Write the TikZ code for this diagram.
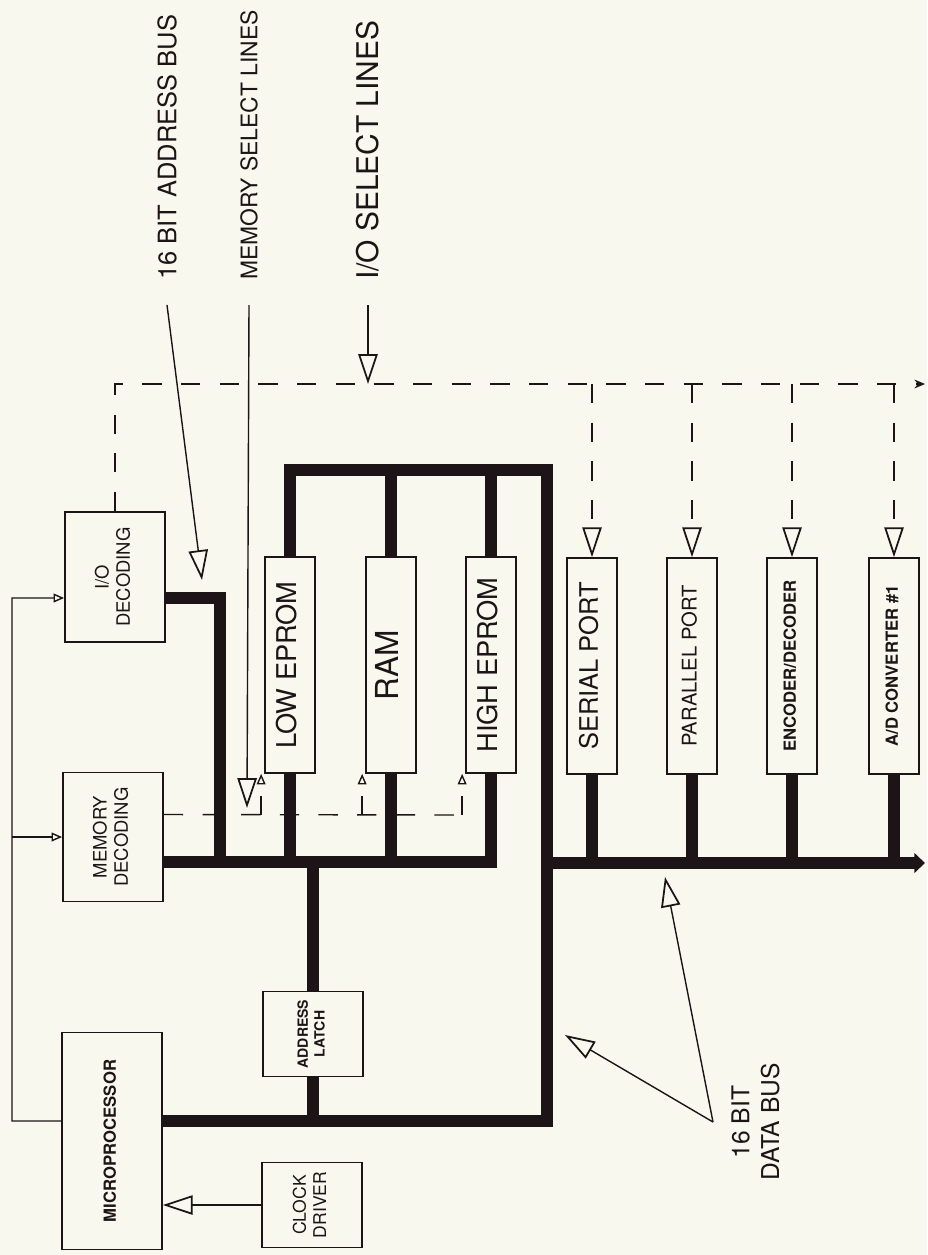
\documentclass[tikz,border=0pt]{standalone}
\usepackage{fontspec}
\setmainfont{TeX Gyre Heros}
\usetikzlibrary{arrows.meta,calc}
\definecolor{paper}{RGB}{248,248,238}
\definecolor{ink}{RGB}{28,20,22}
\newcommand{\vlab}[2]{\rotatebox{90}{#1\begin{tabular}{@{}c@{}}#2\end{tabular}}}

\begin{document}
\begin{tikzpicture}[x=0.02cm,y=-0.02cm,>=Stealth,color=ink,
    box/.style={draw,line width=1pt,inner sep=0pt,minimum width=2cm},
    chip/.style={draw,line width=1pt,inner sep=0pt,minimum width=1cm,minimum height=4.32cm},
    bus/.style={line width=6.8pt,line join=miter},
    sel/.style={line width=0.8pt,dash pattern=on 11pt off 11pt},
    ctl/.style={line width=0.8pt},
    ptr/.style={line width=0.8pt,-{Triangle[open,length=17pt,width=11pt,line width=1pt]}},
    tick/.style={-{Triangle[open,length=6pt,width=5pt,line width=0.8pt]}},
    lbl/.style={rotate=90,inner xsep=0.5cm,inner ysep=0pt}]
\fill[paper] (0,0) rectangle (927,1255);
\useasboundingbox (0,0) rectangle (927,1255);
% decoding, cpu
\node[box,minimum height=2.6cm] (iodec) at (115,577) {\vlab{\fontsize{10.5}{12}\selectfont}{I/O\\DECODING}};
\node[box,minimum height=2.58cm] (memdec) at (113,837) {\vlab{\fontsize{10.5}{12}\selectfont}{MEMORY\\DECODING}};
\node[box,minimum height=4.34cm] (mpu) at (112,1141) {\vlab{\fontsize{9.5}{11}\selectfont\bfseries}{MICROPROCESSOR}};
\node[box,minimum height=1.7cm] (latch) at (313,1034) {\vlab{\fontsize{8}{9.5}\selectfont\bfseries}{ADDRESS\\LATCH}};
\node[box,minimum height=1.7cm] (clk) at (312,1205) {\vlab{\fontsize{10}{11.5}\selectfont}{CLOCK\\DRIVER}};
% memory
\node[chip] (lowrom) at (290,665) {\vlab{\fontsize{15.5}{18}\selectfont}{LOW EPROM}};
\node[chip] (ram) at (391,665) {\vlab{\fontsize{18}{20}\selectfont}{RAM}};
\node[chip] (highrom) at (491,665) {\vlab{\fontsize{15.5}{18}\selectfont}{HIGH EPROM}};
% i/o devices
\node[chip] (serial) at (592,666) {\vlab{\fontsize{14.5}{17}\selectfont}{SERIAL PORT}};
\node[chip] (parallel) at (692,666) {\vlab{\fontsize{11.5}{13}\selectfont}{PARALLEL PORT}};
\node[chip] (codec) at (792,666) {\vlab{\fontsize{9.5}{11}\selectfont\bfseries}{ENCODER/DECODER}};
\node[chip] (adc) at (894,666) {\vlab{\fontsize{9.5}{11}\selectfont\bfseries}{A/D CONVERTER \#1}};

\coordinate (dtop) at (547,470);
\coordinate (dtee) at (547,863);
\coordinate (dbot) at (547,1121);
\coordinate (dend) at (925,863);
\coordinate (abus) at (220,862);
\coordinate (aturn) at (220,598);
\coordinate (msel) at (463,815);
\coordinate (iosel) at (368,384);
\coordinate (ioend) at (925,384);
\coordinate (ctl) at (12,1121);

% data bus
\draw[bus] ([yshift=0.4cm]mpu.east) -- (dbot) -- (dtop) -- (lowrom.north |- dtop) -- (lowrom.north);
\foreach \n in {ram,highrom}
    \draw[bus] (\n.north) -- (\n.north |- dtop);
\draw[bus,-{Triangle[length=6pt,width=11pt]}] (dtee) -- (dend);
\foreach \n in {serial,parallel,codec,adc}
    \draw[bus] (\n.south) -- (\n.south |- dtee);
\draw[bus] (latch.south) -- (latch.south |- dbot);
% address bus
\draw[bus] ([yshift=-0.42cm]iodec.east) -- (aturn) -- (abus);
\draw[bus] ([yshift=-0.5cm]memdec.east) -- (highrom.south |- abus) -- (highrom.south);
\foreach \n in {lowrom,ram}
    \draw[bus] (\n.south) -- (\n.south |- abus);
\draw[bus] (latch.north) -- (latch.north |- abus);

% select lines
\draw[sel,-{Stealth[length=6pt,width=5pt]}] (iodec.north) -- (iodec.north |- iosel) -- (ioend);
\foreach \n in {serial,parallel,codec,adc}
    \draw[sel,-{Triangle[open,length=17pt,width=11pt,line width=1pt]}] (\n.north |- iosel) -- (\n.north);
\draw[sel] ([yshift=0.45cm]memdec.east) -- (msel);
\foreach \n in {lowrom,ram,highrom}
    \draw[sel,tick] ($(\n.south west |- msel)+(-3,0)$) -- ($(\n.south west)+(-3,0)$);

% control lines
\draw[ctl,tick] ([yshift=0.4cm]mpu.west) -- (ctl) -- (ctl |- aturn) -- ([yshift=-0.42cm]iodec.west);
\draw[ctl,tick] (ctl |- memdec.west) -- (memdec.west);
\draw[ctl,ptr] (clk.west) -- (mpu.east |- clk.west);

% labels
\node[lbl,anchor=west,font=\fontsize{14.5}{17}\selectfont] (addrlbl) at (167,305) {16 BIT ADDRESS BUS};
\node[lbl,anchor=west,font=\fontsize{13}{15}\selectfont] (memlbl) at (249,305) {MEMORY SELECT LINES};
\node[lbl,anchor=west,font=\fontsize{17}{20}\selectfont] (iolbl) at (368,305) {I/O SELECT LINES};
\node[rotate=90,anchor=north,align=center,inner ysep=0.36cm,font=\fontsize{14}{17}\selectfont] (datalbl) at (713,1122) {16 BIT\\DATA BUS};
\coordinate (addrtip) at (202,580);
\coordinate (memtip) at (247,808);
\coordinate (dtip1) at (565,1035);
\coordinate (dtip2) at (665,877);
\draw[ptr] (addrlbl.west) -- (addrtip);
\draw[ptr] (memlbl.west) -- (memtip);
\draw[ptr] (iolbl.west) -- (iosel);
\draw[ptr] (datalbl.north) -- (dtip1);
\draw[ptr] (datalbl.north) -- (dtip2);
\end{tikzpicture}
\end{document}
